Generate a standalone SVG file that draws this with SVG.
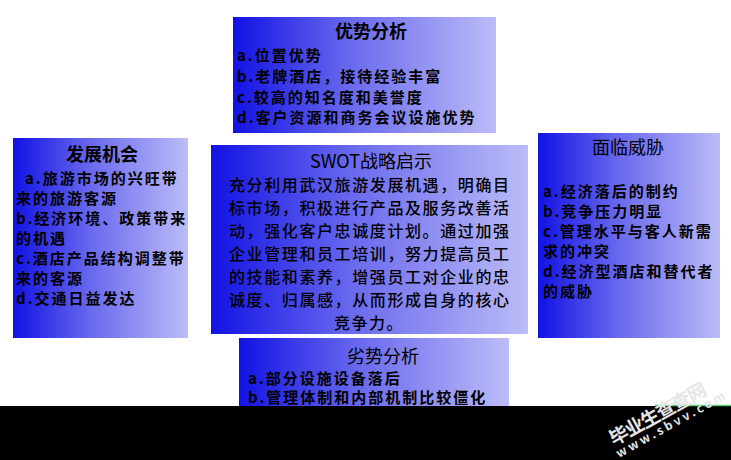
<svg xmlns="http://www.w3.org/2000/svg" width="731" height="460" viewBox="0 0 731 460">
<defs>
<linearGradient id="g" x1="0" y1="0" x2="1" y2="0">
<stop offset="0" stop-color="#1212e4"/>
<stop offset="0.45" stop-color="#6a6aee"/>
<stop offset="1" stop-color="#bcbcf8"/>
</linearGradient>
<style>
.box{fill:url(#g);}
text{font-family:"Noto Sans CJK SC","Liberation Sans",sans-serif;fill:#000;}
.t{font-size:18px;font-weight:bold;text-anchor:middle;}
.tn{font-size:18px;font-weight:normal;text-anchor:middle;}
.l{font-size:15px;font-weight:bold;letter-spacing:2px;}
.c{font-size:16px;font-weight:500;}
.wm{fill:#e6e6e6;font-weight:bold;}
</style>
</defs>
<rect width="731" height="460" fill="#fff"/>
<g id="strengths">
<rect class="box" x="233" y="17" width="263" height="116"/>
<text class="t" x="371" y="38">优势分析</text>
<text class="l" x="237" y="61">a.位置优势</text>
<text class="l" x="237" y="82">b.老牌酒店，接待经验丰富</text>
<text class="l" x="237" y="103">c.较高的知名度和美誉度</text>
<text class="l" x="237" y="123">d.客户资源和商务会议设施优势</text>
</g>
<g id="opportunities">
<rect class="box" x="13" y="138" width="175" height="200"/>
<text class="t" x="102" y="161">发展机会</text>
<text class="l" x="25" y="184">a.旅游市场的兴旺带</text>
<text class="l" x="16" y="204">来的旅游客源</text>
<text class="l" x="16" y="224">b.经济环境、政策带来</text>
<text class="l" x="16" y="244">的机遇</text>
<text class="l" x="16" y="264">c.酒店产品结构调整带</text>
<text class="l" x="16" y="284">来的客源</text>
<text class="l" x="16" y="304">d.交通日益发达</text>
</g>
<g id="swot">
<rect class="box" x="211" y="145" width="317" height="189"/>
<text class="tn" x="371" y="168">SWOT战略启示</text>
<text class="c" x="229" y="191" textLength="280">充分利用武汉旅游发展机遇，明确目</text>
<text class="c" x="229" y="214" textLength="280">标市场，积极进行产品及服务改善活</text>
<text class="c" x="229" y="237" textLength="280">动，强化客户忠诚度计划。通过加强</text>
<text class="c" x="229" y="260" textLength="280">企业管理和员工培训，努力提高员工</text>
<text class="c" x="229" y="283" textLength="280">的技能和素养，增强员工对企业的忠</text>
<text class="c" x="229" y="306" textLength="280">诚度、归属感，从而形成自身的核心</text>
<text class="c" x="369" y="329" text-anchor="middle" letter-spacing="1.5">竞争力。</text>
</g>
<g id="threats">
<rect class="box" x="538" y="133" width="182" height="205"/>
<text class="tn" x="628" y="154">面临威胁</text>
<text class="l" x="543" y="197">a.经济落后的制约</text>
<text class="l" x="543" y="217">b.竞争压力明显</text>
<text class="l" x="543" y="237">c.管理水平与客人新需</text>
<text class="l" x="543" y="257">求的冲突</text>
<text class="l" x="543" y="277">d.经济型酒店和替代者</text>
<text class="l" x="543" y="297">的威胁</text>
</g>
<g id="weaknesses">
<rect class="box" x="239" y="338" width="270" height="80"/>
<text class="tn" x="383" y="363">劣势分析</text>
<text class="l" x="248" y="384">a.部分设施设备落后</text>
<text class="l" x="248" y="403">b.管理体制和内部机制比较僵化</text>
</g>
<g id="connectors"></g>
<rect x="0" y="406" width="731" height="54" fill="#000"/>
<line x1="655" y1="405.5" x2="731" y2="405.5" stroke="#5ac878" stroke-width="1.5"/>
<text class="wm" font-size="19" transform="translate(614,446) rotate(-29)" textLength="108">毕业生查查网</text>
<text class="wm" font-size="12" letter-spacing="3" transform="translate(619,458) rotate(-29)">www.sbvv.com</text>
</svg>
